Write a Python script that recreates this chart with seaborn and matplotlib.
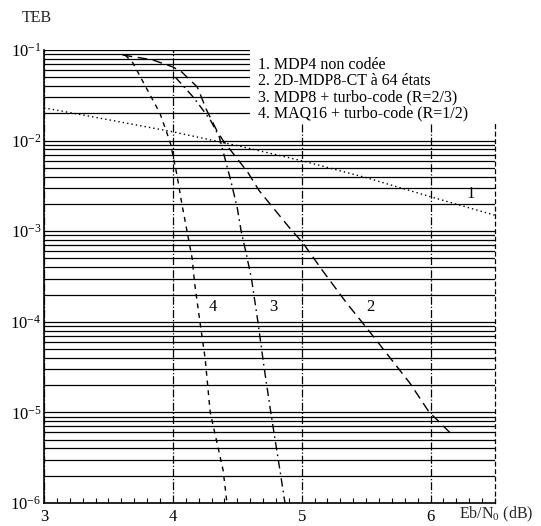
import numpy as np
import pandas as pd
import matplotlib
matplotlib.use("Agg")
import matplotlib.pyplot as plt
import seaborn as sns
from matplotlib.ticker import FixedLocator, NullFormatter, FuncFormatter, MultipleLocator
from matplotlib.patches import Rectangle

# ---- data ----
c1_x = [3.0, 3.5, 4.0, 4.5, 5.0, 5.5, 6.0, 6.5]
c1_y = [2.3e-2, 1.7e-2, 1.25e-2, 8.8e-3, 6.0e-3, 3.9e-3, 2.4e-3, 1.5e-3]

c2_x = [3.61, 3.84, 4.00, 4.07, 4.19, 4.26, 4.34, 4.39, 4.58, 4.67, 4.78, 4.91,
        5.01, 5.16, 5.35, 5.50, 5.68, 5.84, 5.99, 6.05, 6.16]
c2_y = [8.8e-2, 7.8e-2, 6.5e-2, 5.7e-2, 3.9e-2, 2.2e-2, 1.3e-2, 1.0e-2, 4.5e-3,
        2.8e-3, 1.8e-3, 1.07e-3, 7.4e-4, 3.7e-4, 1.6e-4, 8.7e-5, 4.1e-5, 2.1e-5,
        1.0e-5, 8.3e-6, 5.8e-6]

c3_x = [4.02, 4.16, 4.29, 4.36, 4.45, 4.50, 4.53, 4.57, 4.61, 4.66, 4.71, 4.76, 4.84, 4.87]
c3_y = [5.0e-2, 3.0e-2, 1.7e-2, 1.1e-2, 3.6e-3, 1.8e-3, 1.0e-3, 5.6e-4, 3.0e-4,
        1.0e-4, 3.0e-5, 1.0e-5, 1.9e-6, 1.0e-6]

c4_x = [3.63, 3.69, 3.90, 3.98, 4.03, 4.07, 4.11, 4.15, 4.17, 4.21, 4.25, 4.29, 4.39, 4.42]
c4_y = [8.8e-2, 7.2e-2, 2.0e-2, 9.5e-3, 4.3e-3, 2.0e-3, 1.0e-3, 5.0e-4, 2.6e-4,
        1.0e-4, 4.0e-5, 1.0e-5, 2.3e-6, 1.0e-6]

legend_labels = ["1. MDP4 non codée",
                 "2. 2D-MDP8-CT à 64 états",
                 "3. MDP8 + turbo-code (R=2/3)",
                 "4. MAQ16 + turbo-code (R=1/2)"]
curve_ids = ["1", "2", "3", "4"]
curve_label_x = [6.31, 5.53, 4.78, 4.31]
curve_label_y = [2.6e-3, 1.45e-4, 1.45e-4, 1.45e-4]

x_ticks = [3, 4, 5, 6]
y_ticks = [1e-6, 1e-5, 1e-4, 1e-3, 1e-2, 1e-1]

# ---- build table ----
frames = []
for cid, xs, ys in zip(curve_ids, [c1_x, c2_x, c3_x, c4_x], [c1_y, c2_y, c3_y, c4_y]):
    frames.append(pd.DataFrame({"x": xs, "y": ys, "curve": cid}))
df = pd.concat(frames, ignore_index=True)

sns.set_theme(style="white")
plt.rcParams["font.family"] = ["Liberation Serif", "DejaVu Serif"]
plt.rcParams["mathtext.fontset"] = "custom"
plt.rcParams["mathtext.rm"] = "Liberation Serif"
plt.rcParams["mathtext.it"] = "Liberation Serif:italic"

fig = plt.figure(figsize=(5.41, 5.26), dpi=100)
ax = fig.add_axes([44 / 541, 23 / 526, 451 / 541, 453 / 526])

dashes = {"1": (1, 2.2), "2": (7, 4), "3": (6, 3, 1.2, 3), "4": (3.5, 3.5)}
sns.lineplot(data=df, x="x", y="y", hue="curve", style="curve",
             palette={k: "black" for k in curve_ids}, dashes=dashes,
             linewidth=1.0, legend=False, sort=False, estimator=None, ax=ax)

ax.set_yscale("log")
ax.set_xlim(3, 6.5)
ax.set_ylim(1e-6, 1e-1)

ax.xaxis.set_major_locator(FixedLocator(x_ticks))
ax.xaxis.set_minor_locator(MultipleLocator(0.1))
ax.yaxis.set_major_locator(FixedLocator(y_ticks))
ax.yaxis.set_minor_locator(matplotlib.ticker.LogLocator(base=10, subs=np.arange(2, 10)))
ax.yaxis.set_minor_formatter(NullFormatter())
ax.yaxis.set_major_formatter(FuncFormatter(lambda v, p: r"10$^{\mathdefault{%d}}$" % int(round(np.log10(v)))))
ax.xaxis.set_major_formatter(FuncFormatter(lambda v, p: "%d" % v))

ax.set_xlabel("")
ax.set_ylabel("")

ax.tick_params(axis="x", which="major", length=0, pad=4, labelsize=12, colors="black")
ax.tick_params(axis="x", which="minor", direction="in", length=3.5, width=0.8,
               bottom=True, top=False, color="black")
ax.tick_params(axis="y", which="major", length=0, pad=2, labelsize=12, colors="black")
ax.tick_params(axis="y", which="minor", length=0)

ax.yaxis.grid(True, which="both", color="black", linewidth=0.9, linestyle="-")
ax.xaxis.grid(True, which="major", color="black", linewidth=0.9, linestyle="-.")
ax.xaxis.grid(False, which="minor")

for s in ["left", "bottom"]:
    ax.spines[s].set_color("black")
    ax.spines[s].set_linewidth(1.2)
ax.spines["top"].set_visible(False)
ax.spines["right"].set_color("black")
ax.spines["right"].set_linewidth(0.9)
ax.spines["right"].set_linestyle((0, (3, 3)))

# curve number labels
for cid, lx, ly in zip(curve_ids, curve_label_x, curve_label_y):
    ax.text(lx, ly, cid, fontsize=12, ha="center", va="center", color="black")

# white legend block covering the top-right area
fig.add_artist(Rectangle((250 / 541, 1 - 124 / 526), 300 / 541, 90 / 526,
                         transform=fig.transFigure, facecolor="white",
                         edgecolor="none", zorder=10))
for i, lab in enumerate(legend_labels):
    fig.text(258 / 541, 1 - (65 + 16 * i) / 526, lab, fontsize=11.5,
             ha="left", va="center", color="black", zorder=11)

fig.text(22 / 541, 1 - 18 / 526, "TEB", fontsize=11.5, ha="left", va="center")
ax.text(6.22, -0.025, r"Eb/N$_0$ (dB)", transform=ax.get_xaxis_transform(),
        fontsize=11.5, ha="left", va="center", clip_on=False)

fig.savefig("out.png", dpi=100)
